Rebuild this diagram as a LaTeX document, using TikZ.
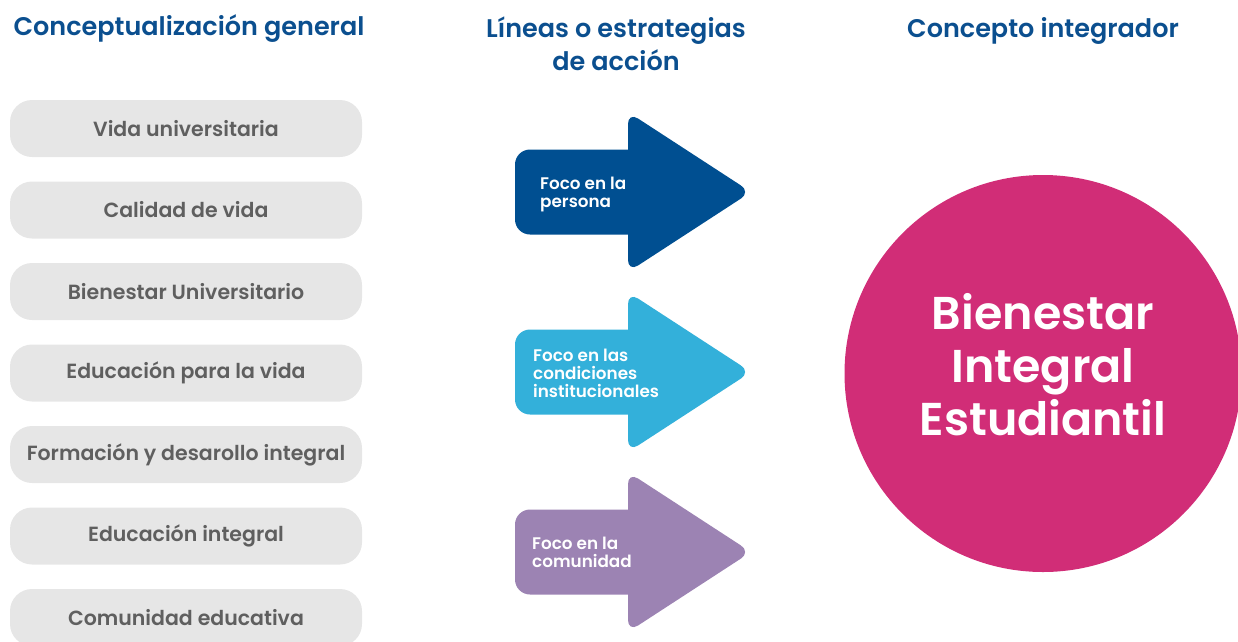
\documentclass[tikz,border=0pt]{standalone}
\usepackage{fontspec}
\setmainfont{Poppins}[BoldFont={Poppins SemiBold}]
\definecolor{hblue}{HTML}{0B4F8F}
\definecolor{aone}{HTML}{004F91}
\definecolor{atwo}{HTML}{33B0DA}
\definecolor{athree}{HTML}{9C83B3}
\definecolor{pink}{HTML}{D12D77}
\definecolor{pillfill}{HTML}{E6E6E6}
\definecolor{pilltext}{HTML}{5F5F5F}
\tikzset{
  heading/.style={text=hblue, font=\fontsize{25.5}{33}\selectfont\bfseries, align=center, inner sep=0pt, anchor=base},
  pill/.style={fill=pillfill, rounded corners=22pt, minimum width=352pt, minimum height=57pt, inner sep=0pt},
  pilltxt/.style={text=pilltext, font=\fontsize{20.5}{22}\selectfont\bfseries, inner sep=0pt},
  arrowtext/.style={text=white, font=\fontsize{16.8}{18}\selectfont\bfseries, align=left, inner sep=0pt, anchor=base west},
  bigcircle/.style={circle, fill=pink, minimum size=397pt, inner sep=0pt},
  bigtext/.style={text=white, font=\fontsize{46}{53}\selectfont\bfseries, align=center, inner sep=0pt, anchor=base}
}
\begin{document}
\begin{tikzpicture}[x=1pt,y=-1pt]
\useasboundingbox (0,0) rectangle (1238,641);
\clip (0,0) rectangle (1238,641);
% headings
\node[heading] (h1) at (189,35) {Conceptualización general};
\node[heading] (h2) at (616,70) {Líneas o estrategias\\de acción};
\node[heading] (h3) at (1043,37) {Concepto integrador};
% pills
\foreach \n/\yy/\t in {p1/128.5/Vida universitaria, p2/210/Calidad de vida, p3/291.5/Bienestar Universitario,
   p4/373/Educación para la vida, p5/454.5/Formación y desarollo integral, p6/536/Educación integral,
   p7/617.5/Comunidad educativa}{
  \node[pill] (\n) at (186,\yy) {};
  \node[pilltxt] (\n t) at (\n) {\t};
}
% arrows
\foreach \c/\yy in {aone/192, atwo/372, athree/552}{
  \fill[\c, rounded corners=15pt] (515,\yy) -- (515,\yy-42.5) [sharp corners] -- (628,\yy-42.5)
     [rounded corners=12pt] -- (628,\yy-80) -- (751,\yy) -- (628,\yy+80) [sharp corners] -- (628,\yy+42.5)
     [rounded corners=15pt] -- (515,\yy+42.5) -- cycle;
}
\node[arrowtext] (a1) at (540,207) {Foco en la\\persona};
\node[arrowtext] (a2) at (533,397) {Foco en las\\condiciones\\institucionales};
\node[arrowtext] (a3) at (532,567) {Foco en la\\comunidad};
% circle
\node[bigcircle] (c) at (1043,373.5) {};
\node[bigtext] (ct) at (1043,435) {Bienestar\\Integral\\Estudiantil};
\end{tikzpicture}
\end{document}
